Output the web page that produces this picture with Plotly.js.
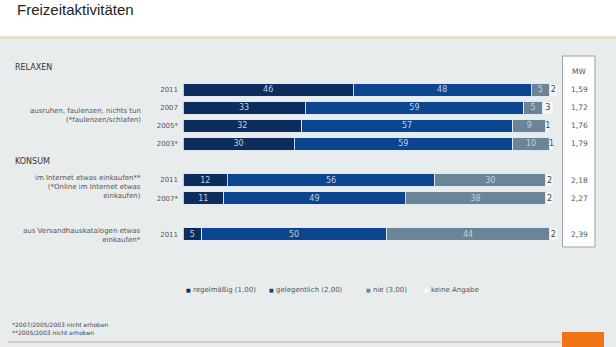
<!DOCTYPE html>
<html>
<head>
<meta charset="utf-8">
<script src="https://cdn.plot.ly/plotly-3.0.1.min.js"></script>
<style>html,body{margin:0;padding:0;background:#fff;}#chart{width:616px;height:347px;}</style>
</head>
<body>
<div id="chart"></div>
<script>
// ---- data ----
const rowKeys = ['r11', 'r07', 'r05', 'r03', 'i11', 'i07', 'v11'];
const allRows = ['r11', 'r07', 'r05', 'r03', 'konsum', 'i11', 'i07', 'gap', 'v11'];
const yearLabels = ['2011', '2007', '2005*', '2003*', '', '2011', '2007*', '', '2011'];
const regelmaessig = [46, 33, 32, 30, 12, 11, 5];
const gelegentlich = [48, 59, 57, 59, 56, 49, 50];
const nie = [5, 5, 9, 10, 30, 38, 44];
const keineAngabe = [2, 3, 1, 1, 2, 2, 2];
const mwValues = ['1,59', '1,72', '1,76', '1,79', '2,18', '2,27', '2,39'];
const seriesNames = ['regelmäßig (1,00)', 'gelegentlich (2,00)', 'nie (3,00)', 'keine Angabe'];
const seriesColors = ['#0c2d5e', '#0b4590', '#6a8598', '#f6f8f8'];
const itemLabels = [
  {text: 'ausruhen, faulenzen, nichts tun<br>(*faulenzen/schlafen)', pos: 1.45},
  {text: 'im Internet etwas einkaufen**<br>(*Online im Internet etwas<br>einkaufen)', pos: 5.4},
  {text: 'aus Versandhauskatalogen etwas<br>einkaufen*', pos: 8.1}
];
const sections = [{text: 'RELAXEN', py: 67}, {text: 'KONSUM', py: 161}];
const footnotes = '*2007/2005/2003 nicht erhoben<br>**2005/2003 nicht erhoben';

// ---- geometry helpers ----
const W = 616, H = 347, ML = 183, MR = 59, MT = 79, MB = 102;
const PW = W - ML - MR, PH = H - MT - MB;
const xp = px => (px - ML) / PW;
const yp = py => 1 - (py - MT) / PH;

const small = 'DejaVu Sans, Verdana, sans-serif';
const series = [regelmaessig, gelegentlich, nie, keineAngabe];

const traces = series.map((vals, i) => ({
  type: 'bar',
  orientation: 'h',
  name: seriesNames[i],
  y: rowKeys,
  x: vals,
  text: vals.map(String),
  textposition: 'inside',
  insidetextanchor: 'middle',
  textangle: 0,
  constraintext: 'none',
  textfont: {family: small, size: 8, color: i === 3 ? '#444' : '#c4cede'},
  marker: {color: seriesColors[i], line: {color: 'rgba(225,232,238,0.85)', width: 1}},
  hoverinfo: 'skip',
  showlegend: false
}));

const annotations = [];
itemLabels.forEach(l => annotations.push({
  text: l.text, xref: 'paper', x: xp(143), xanchor: 'right', yref: 'y', y: l.pos,
  yanchor: 'middle', align: 'right', showarrow: false,
  font: {family: small, size: 7, color: '#555'}
}));
sections.forEach(s => annotations.push({
  text: s.text, xref: 'paper', x: xp(13), xanchor: 'left', yref: 'paper', y: yp(s.py),
  yanchor: 'middle', showarrow: false, font: {family: small, size: 8, color: '#333'}
}));
annotations.push({
  text: 'MW', xref: 'paper', x: xp(579), xanchor: 'center', yref: 'paper', y: yp(72),
  yanchor: 'middle', showarrow: false, font: {family: small, size: 7.5, color: '#555'}
});
rowKeys.forEach((k, i) => annotations.push({
  text: mwValues[i], xref: 'paper', x: xp(579), xanchor: 'center', yref: 'y', y: k,
  yanchor: 'middle', showarrow: false, font: {family: small, size: 7.5, color: '#555'}
}));
// legend
const legendX = [184, 267, 364, 422];
seriesNames.forEach((n, i) => annotations.push({
  text: '<span style="font-size:5px;color:' + (i === 3 ? '#ffffff' : seriesColors[i]) + '">■</span> ' + n,
  xref: 'paper', x: xp(legendX[i]), xanchor: 'left', yref: 'paper', y: yp(290),
  yanchor: 'middle', showarrow: false, font: {family: small, size: 7, color: '#555'}
}));
annotations.push({
  text: footnotes, xref: 'paper', x: xp(10), xanchor: 'left', yref: 'paper', y: yp(328.5),
  yanchor: 'middle', align: 'left', showarrow: false, font: {family: small, size: 6, color: '#444'}
});

const shapes = [
  {type: 'rect', layer: 'below', xref: 'paper', yref: 'paper', x0: xp(0), x1: xp(W), y0: yp(H), y1: yp(38), fillcolor: '#e9ecec', line: {width: 0}},
  {type: 'line', layer: 'below', xref: 'paper', yref: 'paper', x0: xp(0), x1: xp(W), y0: yp(37.5), y1: yp(37.5), line: {color: '#f3d4b0', width: 2}},
  {type: 'rect', layer: 'below', xref: 'paper', yref: 'paper', x0: xp(562.5), x1: xp(595), y0: yp(247), y1: yp(56), fillcolor: '#ffffff', line: {color: '#9aa1a8', width: 1}},
  {type: 'line', layer: 'below', xref: 'paper', yref: 'paper', x0: xp(8), x1: xp(561), y0: yp(342), y1: yp(342), line: {color: '#d6cabd', width: 2}},
  {type: 'rect', layer: 'below', xref: 'paper', yref: 'paper', x0: xp(562), x1: xp(604), y0: yp(350), y1: yp(332), fillcolor: '#f07415', line: {width: 0}}
];

const layout = {
  width: W, height: H,
  margin: {l: ML, r: MR, t: MT, b: MB, pad: 0},
  paper_bgcolor: '#ffffff',
  plot_bgcolor: 'rgba(0,0,0,0)',
  barmode: 'stack',
  bargap: 0.31,
  showlegend: false,
  title: {text: 'Freizeitaktivitäten', x: 17 / W, xanchor: 'left', xref: 'container',
          y: 1 - 10 / H, yref: 'container', yanchor: 'middle',
          font: {family: 'Liberation Sans, Arial, sans-serif', size: 15, color: '#222'}},
  xaxis: {range: [0, 101], visible: false, fixedrange: true},
  yaxis: {type: 'category', categoryorder: 'array', categoryarray: allRows,
          range: [8.6, -0.6], tickvals: allRows, ticktext: yearLabels,
          showgrid: false, zeroline: false, showline: false, ticks: '',
          ticklabelstandoff: 4,
          tickfont: {family: small, size: 7, color: '#555'}, fixedrange: true},
  annotations: annotations,
  shapes: shapes
};

Plotly.newPlot('chart', traces, layout, {displayModeBar: false, staticPlot: true});
</script>
</body>
</html>
